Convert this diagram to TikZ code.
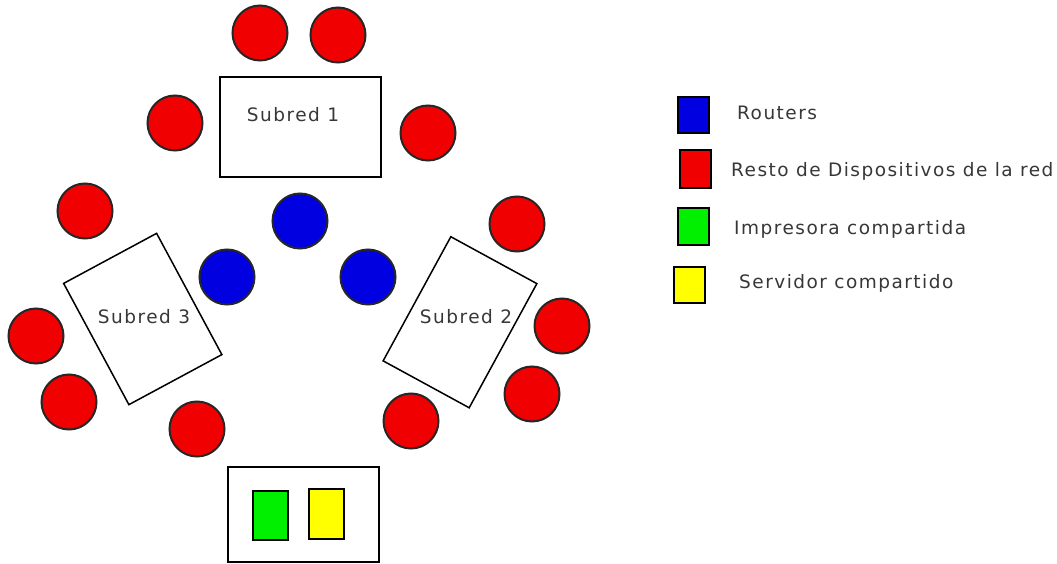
\documentclass[tikz,border=0pt]{standalone}
\usepackage{fontspec}
\newfontfamily\lblfont[LetterSpace=8]{DejaVu Sans}
\definecolor{devred}{RGB}{240,0,0}
\definecolor{devblue}{RGB}{0,0,225}
\definecolor{devgreen}{RGB}{0,240,0}
\definecolor{devyellow}{RGB}{255,255,0}
\definecolor{txt}{RGB}{55,55,55}
\tikzset{
  x=1pt, y=-1pt,
  dev/.style={circle, draw=black!85, line width=2pt, fill=devred, minimum size=55pt, inner sep=0pt},
  router/.style={dev, fill=devblue},
  netbox/.style={draw=black, line width=2pt, inner sep=0pt},
  lbl/.style={font=\lblfont\fontsize{18.5}{21}\selectfont, text=txt, inner sep=0pt},
  keybox/.style={draw=black, line width=2pt, minimum width=31pt, minimum height=36pt, inner sep=0pt},
}
\begin{document}
\begin{tikzpicture}
\useasboundingbox (0,0) rectangle (1057,564);
% Subred 1
\node[netbox, minimum width=161pt, minimum height=100pt] (s1) at (300.5,127) {};
\node[lbl, anchor=base] (s1t) at (293,122) {Subred 1};
% Subred 3
\node[netbox, line width=1.5pt, minimum width=105.6pt, minimum height=137.7pt, rotate=28.3] (s3) at (142.75,319) {};
\node[lbl, anchor=base] (s3t) at (144,323) {Subred 3};
% Subred 2
\node[netbox, line width=1.5pt, minimum width=98pt, minimum height=141.4pt, rotate=-28.6] (s2) at (460,322.25) {};
\node[lbl, anchor=base] (s2t) at (466,323) {Subred 2};
% red devices
\node[dev] (r1) at (260,33) {};
\node[dev] (r2) at (338,35) {};
\node[dev] (r3) at (175,123) {};
\node[dev] (r4) at (428,133) {};
\node[dev] (r5) at (85,211) {};
\node[dev] (r6) at (36,336) {};
\node[dev] (r7) at (69,402) {};
\node[dev] (r8) at (197,429) {};
\node[dev] (r9) at (517,224) {};
\node[dev] (r10) at (562,326) {};
\node[dev] (r11) at (532,394) {};
\node[dev] (r12) at (411,421) {};
% routers
\node[router] (b1) at (300,221) {};
\node[router] (b2) at (227,277) {};
\node[router] (b3) at (368,277) {};
% shared box
\node[netbox, minimum width=151pt, minimum height=95pt] (sh) at (303.5,514.5) {};
\node[draw=black, line width=2pt, fill=devgreen, minimum width=35pt, minimum height=49pt, inner sep=0pt] (pr) at (270.5,515.5) {};
\node[draw=black, line width=2pt, fill=devyellow, minimum width=35pt, minimum height=50pt, inner sep=0pt] (sv) at (326.5,514) {};
% legend
\node[keybox, fill=devblue] (k1) at (693,115) {};
\node[keybox, fill=devred, minimum height=38pt] (k2) at (695,169) {};
\node[keybox, fill=devgreen, minimum height=37pt] (k3) at (693,226.5) {};
\node[keybox, fill=devyellow] (k4) at (689.5,285) {};
\node[lbl, anchor=base west] (t1) at (737,120) {Routers};
\node[lbl, anchor=base west] (t2) at (731,177) {Resto de Dispositivos de la red};
\node[lbl, anchor=base west] (t3) at (734,234) {Impresora compartida};
\node[lbl, anchor=base west] (t4) at (739,288) {Servidor compartido};
\end{tikzpicture}
\end{document}
